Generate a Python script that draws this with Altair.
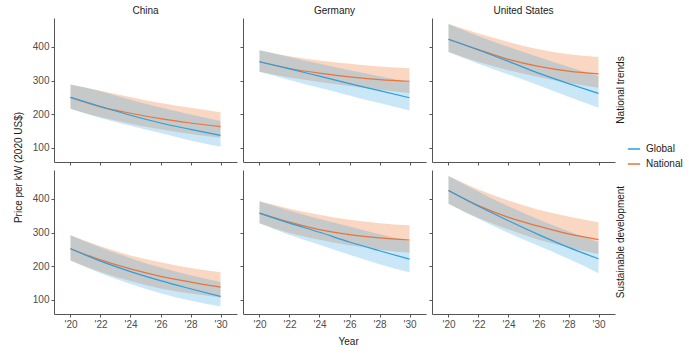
import altair as alt
import pandas as pd

years = [2020, 2022, 2024, 2026, 2028, 2030]
year_ticks = [2020, 2022, 2024, 2026, 2028, 2030]
y_ticks = [100, 200, 300, 400]
countries = ["China", "Germany", "United States"]
scenarios = ["National trends", "Sustainable development"]
series_names = ["Global", "National"]

# National trends
cn_nt_global = [250, 223, 197, 174, 155, 137]
cn_nt_global_lo = [216, 189, 166, 144, 122, 103]
cn_nt_global_hi = [288, 268, 243, 220, 199, 180]
cn_nt_national = [250, 222, 203, 187, 174, 163]
cn_nt_national_lo = [216, 191, 172, 155, 141, 130]
cn_nt_national_hi = [288, 270, 251, 233, 219, 206]

de_nt_global = [356, 335, 313, 291, 270, 249]
de_nt_global_lo = [326, 302, 279, 256, 233, 211]
de_nt_global_hi = [390, 370, 350, 331, 313, 296]
de_nt_national = [356, 336, 322, 311, 303, 298]
de_nt_national_lo = [326, 309, 296, 284, 273, 263]
de_nt_national_hi = [390, 372, 360, 350, 342, 337]

us_nt_global = [423, 391, 357, 322, 291, 262]
us_nt_global_lo = [385, 350, 318, 286, 252, 219]
us_nt_global_hi = [468, 432, 400, 370, 341, 313]
us_nt_national = [423, 392, 363, 342, 328, 320]
us_nt_national_lo = [385, 355, 331, 311, 293, 279]
us_nt_national_hi = [468, 440, 415, 393, 378, 370]

# Sustainable development
cn_sd_global = [252, 215, 184, 157, 133, 110]
cn_sd_global_lo = [217, 179, 147, 120, 98, 80]
cn_sd_global_hi = [292, 256, 224, 196, 173, 153]
cn_sd_national = [252, 219, 192, 170, 153, 138]
cn_sd_national_lo = [217, 183, 156, 134, 119, 107]
cn_sd_national_hi = [292, 259, 232, 212, 195, 182]

de_sd_global = [358, 328, 301, 272, 246, 221]
de_sd_global_lo = [328, 293, 264, 234, 206, 182]
de_sd_global_hi = [393, 365, 340, 318, 295, 275]
de_sd_national = [358, 331, 309, 294, 284, 278]
de_sd_national_lo = [328, 299, 279, 262, 249, 240]
de_sd_national_hi = [393, 371, 353, 338, 328, 322]

us_sd_global = [425, 378, 335, 294, 256, 222]
us_sd_global_lo = [386, 341, 299, 261, 222, 179]
us_sd_global_hi = [468, 421, 378, 339, 304, 272]
us_sd_national = [425, 380, 345, 319, 296, 279]
us_sd_national_lo = [386, 343, 309, 279, 256, 236]
us_sd_national_hi = [468, 428, 395, 368, 348, 331]

panels = {
    ("China", "National trends"): (cn_nt_global, cn_nt_global_lo, cn_nt_global_hi, cn_nt_national, cn_nt_national_lo, cn_nt_national_hi),
    ("Germany", "National trends"): (de_nt_global, de_nt_global_lo, de_nt_global_hi, de_nt_national, de_nt_national_lo, de_nt_national_hi),
    ("United States", "National trends"): (us_nt_global, us_nt_global_lo, us_nt_global_hi, us_nt_national, us_nt_national_lo, us_nt_national_hi),
    ("China", "Sustainable development"): (cn_sd_global, cn_sd_global_lo, cn_sd_global_hi, cn_sd_national, cn_sd_national_lo, cn_sd_national_hi),
    ("Germany", "Sustainable development"): (de_sd_global, de_sd_global_lo, de_sd_global_hi, de_sd_national, de_sd_national_lo, de_sd_national_hi),
    ("United States", "Sustainable development"): (us_sd_global, us_sd_global_lo, us_sd_global_hi, us_sd_national, us_sd_national_lo, us_sd_national_hi),
}

BLUE = "#2A9FDF"
ORANGE = "#E8743B"
ORANGE_BAND = "#F29A66"
FONT = "Liberation Sans"
W, H = 183, 144
XDOM = [2018.9, 2031.1]
YDOM = [58, 486]


def panel(country, scen, ci, ri):
    g, glo, ghi, n, nlo, nhi = panels[(country, scen)]
    band = pd.DataFrame({"year": years, "glo": glo, "ghi": ghi, "nlo": nlo, "nhi": nhi})
    lines = pd.DataFrame({
        "year": years + years,
        "value": g + n,
        "series": ["Global"] * len(years) + ["National"] * len(years),
    })
    xax = alt.Axis(values=year_ticks, labels=(ri == 1), title=None, grid=False, minExtent=0,
                   labelExpr="\"'\" + substring(toString(datum.value), 2, 4)")
    yax = alt.Axis(values=y_ticks, labels=(ci == 0), title=None, grid=False, minExtent=0)
    xs = alt.Scale(domain=XDOM, nice=False, zero=False)
    ys = alt.Scale(domain=YDOM, nice=False, zero=False)
    x = alt.X("year:Q", scale=xs, axis=xax)
    color = alt.Color("series:N",
                      scale=alt.Scale(domain=series_names, range=[BLUE, ORANGE]),
                      legend=alt.Legend(title=None))
    nat_band = alt.Chart(band).mark_area(color=ORANGE_BAND, opacity=0.4, interpolate="monotone").encode(
        x=x, y=alt.Y("nlo:Q", scale=ys, axis=yax), y2="nhi:Q")
    glob_band = alt.Chart(band).mark_area(color=BLUE, opacity=0.25, interpolate="monotone").encode(
        x=x, y=alt.Y("glo:Q", scale=ys, axis=yax), y2="ghi:Q")
    nat_line = alt.Chart(lines).transform_filter(alt.datum.series == "National").mark_line(
        strokeWidth=1.2, interpolate="monotone").encode(
        x=x, y=alt.Y("value:Q", scale=ys, axis=yax), color=color)
    glob_line = alt.Chart(lines).transform_filter(alt.datum.series == "Global").mark_line(
        strokeWidth=1.2, interpolate="monotone").encode(
        x=x, y=alt.Y("value:Q", scale=ys, axis=yax), color=color)
    layers = [nat_band, glob_band, nat_line, glob_line]
    if ci == 2:
        lab = alt.Chart(pd.DataFrame({"t": [scen]})).mark_text(
            angle=270, fontSize=10, font=FONT, baseline="top", align="center", color="#1a1a1a").encode(
            x=alt.value(W + 1), y=alt.value(H / 2), text="t:N")
        layers.append(lab)
    ch = alt.layer(*layers).properties(width=W, height=H)
    if ri == 0:
        ch = ch.properties(title=alt.TitleParams(country, fontSize=10, fontWeight="normal", font=FONT,
                                                 frame="group", anchor="middle", offset=2, color="#1a1a1a"))
    return ch


top = alt.hconcat(*[panel(c, scenarios[0], i, 0) for i, c in enumerate(countries)],
                  spacing=6, bounds="flush")
bot = alt.hconcat(*[panel(c, scenarios[1], i, 1) for i, c in enumerate(countries)],
                  spacing=6, bounds="flush")
grid = alt.vconcat(top, bot, spacing=4).properties(
    title=alt.TitleParams("Price per kW (2020 US$)", orient="left", anchor="middle", fontSize=10,
                          fontWeight="normal", font=FONT, offset=8, color="#1a1a1a"),
)
chart = alt.vconcat(grid, spacing=0).properties(
    title=alt.TitleParams("Year", orient="bottom", anchor="middle", fontSize=10, fontWeight="normal",
                          font=FONT, offset=8, color="#1a1a1a"),
    padding={"left": 14, "top": 6, "right": 0, "bottom": 2},
)

chart = chart.configure_view(stroke=None).configure_axis(
    domainColor="#555555", tickColor="#555555", tickSize=3, labelFont=FONT, labelFontSize=10,
    labelColor="#4d4d4d", labelPadding=2, domainWidth=1,
).configure_legend(
    orient="none", legendX=573, legendY=124, labelFont=FONT, labelFontSize=10, labelColor="#1a1a1a",
    symbolType="stroke", symbolStrokeWidth=1.5, symbolSize=150, rowPadding=3, labelOffset=5,
)

chart.save("out.html", embed_options={"renderer": "svg", "actions": False})
